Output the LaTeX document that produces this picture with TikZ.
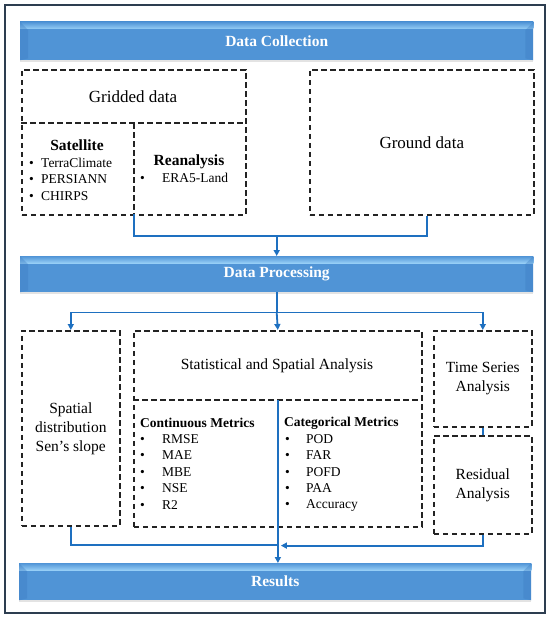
\documentclass[tikz,border=0pt]{standalone}
\usepackage{fontspec}
\setmainfont{Liberation Serif}
\usetikzlibrary{arrows.meta,calc,shadows}
\definecolor{barlight}{RGB}{150,206,246}
\definecolor{barmid}{RGB}{80,148,214}
\definecolor{bardark}{RGB}{58,122,192}
\definecolor{linkblue}{RGB}{30,112,192}
\definecolor{dashgray}{RGB}{35,35,35}
\definecolor{framegray}{RGB}{45,62,80}
\newcommand\bul[1]{\makebox[#1][l]{\textbullet}}

\tikzset{
  bar/.style={anchor=north west,inner sep=0,minimum width=513pt,fill=barmid,
    drop shadow={opacity=0.22,shadow xshift=0pt,shadow yshift=-2pt},
    text=white,font=\fontsize{15.5}{18}\selectfont\bfseries},
  dbox/.style={anchor=north west,dashbox,inner sep=0,align=center},
  dashbox/.style={draw=dashgray,line width=1.6pt,dash pattern=on 5.5pt off 3.5pt},
  big/.style={font=\fontsize{15.5}{19}\selectfont},
  item/.style={anchor=west,inner sep=0,font=\fontsize{13.5}{15}\selectfont},
  head/.style={inner sep=0,font=\fontsize{15.5}{18}\selectfont\bfseries},
  link/.style={draw=linkblue,line width=1.8pt},
  flow/.style={link,-{Triangle[length=6pt,width=6pt]}}
}

\begin{document}
\begin{tikzpicture}[x=1pt,y=-1pt]
\useasboundingbox (0,0) rectangle (550,618);
% outer frame
\draw[framegray,line width=1.2pt] (5,5) rectangle (545,613);

% bars
\node[bar,minimum height=38pt] (coll) at (20,22) {};
\node[bar,minimum height=36pt] (proc) at (20,256) {};
\node[bar,minimum height=37pt,minimum width=512pt] (res) at (19,563) {};
\foreach \b/\txt in {coll/Data Collection,proc/Data Processing,res/Results} {
  % bevel: light top edge and darker side faces
  \shade[top color=barmid,bottom color=barlight] (\b.north west) rectangle ($(\b.north east)+(0,7)$);
  \fill[bardark,opacity=0.35] (\b.north west) -- ++(8,8) -- ($(\b.south west)+(8,-2)$) -- (\b.south west) -- cycle;
  \fill[bardark,opacity=0.35] (\b.north east) -- ++(-8,8) -- ($(\b.south east)+(-8,-2)$) -- (\b.south east) -- cycle;
  \node[text=white,font=\fontsize{15.5}{18}\selectfont\bfseries] at (\b) {\txt};
}

% data collection boxes
\node[dbox,minimum width=224pt,minimum height=145pt] (grid) at (21,69) {};
\node[anchor=north west,inner sep=0,minimum width=112.3pt,minimum height=91pt] (sat) at (21,123) {};
\node[anchor=north west,inner sep=0,minimum width=111.7pt,minimum height=91pt] (rea) at (sat.north east) {};
\draw[dashbox] (sat.north west) -- (rea.north east);
\draw[dashbox] (sat.north east) -- (sat.south east);
\node[dbox,font=\fontsize{17}{20}\selectfont,minimum width=224pt,minimum height=145pt] (ground) at (309,69) {Ground data};
\node[inner sep=0,font=\fontsize{17}{20}\selectfont] (gridtxt) at (133,97) {Gridded data};

\node[head] (sattitle) at (77,145) {Satellite};
\foreach \name [count=\i] in {TerraClimate,PERSIANN,CHIRPS}
  \node[item] at (29,146.5+16.5*\i) {\bul{12pt}\name};
\node[head] (reatitle) at (189,162) {Reanalysis};
\node[item] (era) at (140,178) {\bul{22pt}ERA5-Land};

% processing boxes
\node[dbox,big,minimum width=98pt,minimum height=195pt] (spat) at (21,330) {Spatial\\distribution\\Sen’s slope};
\node[dbox,minimum width=288pt,minimum height=196pt] (stat) at (133,330) {};
\node[big,inner sep=0] (stattxt) at (277,366) {Statistical and Spatial Analysis};
\node[anchor=north west,inner sep=0,minimum width=144.5pt,minimum height=126pt] (cont) at (133,400) {};
\node[anchor=north west,inner sep=0,minimum width=143.5pt,minimum height=126pt] (cat) at (cont.north east) {};
\draw[dashbox] (cont.north west) -- (cat.north east);
\node[dbox,big,minimum width=98pt,minimum height=96pt] (time) at (433,330) {Time Series\\Analysis};
\node[dbox,big,minimum width=98pt,minimum height=98pt] (resid) at (433,435) {Residual\\Analysis};

% metrics
\node[item,font=\fontsize{13.5}{15}\selectfont\bfseries] (conttitle) at (140,423) {Continuous Metrics};
\foreach \name [count=\i] in {RMSE,MAE,MBE,NSE,R2}
  \node[item] at (140,422.5+16.5*\i) {\bul{22pt}\name};
\node[item,font=\fontsize{13.5}{15}\selectfont\bfseries] (cattitle) at (284,423) {Categorical Metrics};
\foreach \name [count=\i] in {POD,FAR,POFD,PAA,Accuracy}
  \node[item] at (285,422.5+16.5*\i) {\bul{21pt}\name};

% connectors
\path (sat.south east) ++(0,21.3) coordinate (j1);
\draw[link] (sat.south east) -- (j1) -| ([xshift=5pt]ground.south);
\draw[flow] (j1 -| proc.north) -- (proc.north);
\path (proc.south) ++(0,20) coordinate (j2);
\draw[link] (proc.south) -- (j2);
\draw[flow] (j2) -| (spat.north);
\draw[flow] (j2) -| (time.north);
\draw[flow] (j2) -- (stat.north);
\draw[link] (time.south) -- (resid.north);
\path (spat.south) ++(0,18) coordinate (j3);
\draw[link] (spat.south) -- (j3) -- (j3 -| cat.north west);
\draw[flow] (cat.north west) -- (cat.north west |- res.north);
\draw[flow] (resid.south) |- ($(j3 -| cat.north west)+(3,1)$);
\end{tikzpicture}
\end{document}
